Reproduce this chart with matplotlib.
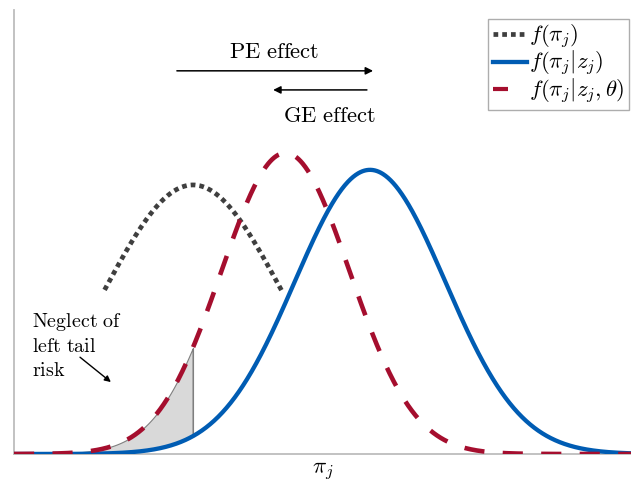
import numpy as np
import matplotlib
matplotlib.use("Agg")
import matplotlib.pyplot as plt
from matplotlib.lines import Line2D

plt.rcParams["mathtext.fontset"] = "cm"
plt.rcParams["font.family"] = ["DejaVu Serif"]

# Distribution parameters (location, spread, peak height)
names = ["prior", "posterior", "distorted"]
means = [2.90, 5.77, 4.40]
sds = [1.44, 1.22, 1.04]
peaks = [0.606, 0.640, 0.678]
labels = [r"$f(\pi_j)$", r"$f(\pi_j|z_j)$", r"$f(\pi_j|z_j,\theta)$"]
colors = ["#3f3f3f", "#005CB3", "#A50E2E"]

x_min, x_max = 0.0, 10.0
x = np.linspace(x_min, x_max, 1200)


def bell(xv, mu, sd, peak):
    return peak * np.exp(-0.5 * ((xv - mu) / sd) ** 2)


fig = plt.figure(figsize=(6.31, 4.84), dpi=100)
ax = fig.add_axes([14 / 631, 30 / 484, 617 / 631, 444 / 484])
ax.set_xlim(x_min, x_max)
ax.set_ylim(0, 1)

y_prior = bell(x, means[0], sds[0], peaks[0])
y_post = bell(x, means[1], sds[1], peaks[1])
y_dist = bell(x, means[2], sds[2], peaks[2])

# Shaded left tail: mass the distorted belief adds below the prior mean
cut = means[0]
tail = x <= cut
ax.fill_between(x[tail], y_post[tail], y_dist[tail], facecolor="#d9d9d9",
                edgecolor="#7f7f7f", linewidth=0.8, zorder=1)
ax.plot([cut, cut], [bell(cut, means[1], sds[1], peaks[1]),
                     bell(cut, means[2], sds[2], peaks[2])],
        color="#7f7f7f", linewidth=0.8, zorder=1)

# Prior drawn over one standard deviation either side of its mean
win = np.abs(x - means[0]) <= sds[0]
dot_style = dict(color=colors[0], linewidth=3.4, linestyle=(0, (1.0, 0.85)),
                 dash_capstyle="butt")
ax.plot(x[win], y_prior[win], zorder=2, **dot_style)
ax.plot(x, y_post, color=colors[1], linewidth=3.1, zorder=3)
ax.plot(x, y_dist, color=colors[2], linewidth=3.3,
        linestyle=(0, (4.4, 4.0)), dash_capstyle="butt", zorder=4)

# Shift arrows
arrow_kw = dict(arrowstyle="-|>", color="black", linewidth=1.1,
                mutation_scale=11, shrinkA=0, shrinkB=0)
ax.annotate("", xy=(5.82, 0.863), xytext=(2.64, 0.863), arrowprops=arrow_kw)
ax.annotate("", xy=(4.20, 0.820), xytext=(5.72, 0.820), arrowprops=arrow_kw)
ax.text(4.22, 0.905, r"$\mathrm{PE\ effect}$", ha="center", va="center",
        fontsize=16.2)
ax.text(5.11, 0.761, r"$\mathrm{GE\ effect}$", ha="center", va="center",
        fontsize=16.2)

# Tail annotation
ax.text(0.29, 0.245, "$\\mathrm{Neglect\\ of}$\n$\\mathrm{left\\ tail}$\n$\\mathrm{risk}$",
        ha="left", va="center", fontsize=14.4, linespacing=1.3)
ax.annotate("", xy=(1.57, 0.162), xytext=(1.07, 0.218),
            arrowprops=dict(arrowstyle="-|>", color="black", linewidth=1.0,
                            mutation_scale=9, shrinkA=0, shrinkB=0))

ax.set_xticks([])
ax.set_yticks([])
for side in ("top", "right"):
    ax.spines[side].set_visible(False)
for side in ("left", "bottom"):
    ax.spines[side].set_color("#bdbdbd")
    ax.spines[side].set_linewidth(1.3)

ax.set_xlabel(r"$\pi_j$", fontsize=16.5, labelpad=5)

# Legend keys: the dashed key shows a single dash
handles = [
    Line2D([], [], **dot_style),
    Line2D([], [], color=colors[1], linewidth=3.1),
    Line2D([], [], color=colors[2], linewidth=3.0, linestyle=(0, (3.6, 20)),
           dash_capstyle="butt"),
]
leg = ax.legend(handles, labels, loc="upper right",
                bbox_to_anchor=(629 / 631, 1 - 19 / 484),
                bbox_transform=fig.transFigure, fontsize=16.4, frameon=True,
                fancybox=False, handlelength=1.5, handletextpad=0.12,
                borderpad=0.18, labelspacing=-0.08, borderaxespad=0)
leg.get_frame().set_edgecolor("#999999")
leg.get_frame().set_linewidth(1.0)

fig.savefig("out.png", dpi=100)
